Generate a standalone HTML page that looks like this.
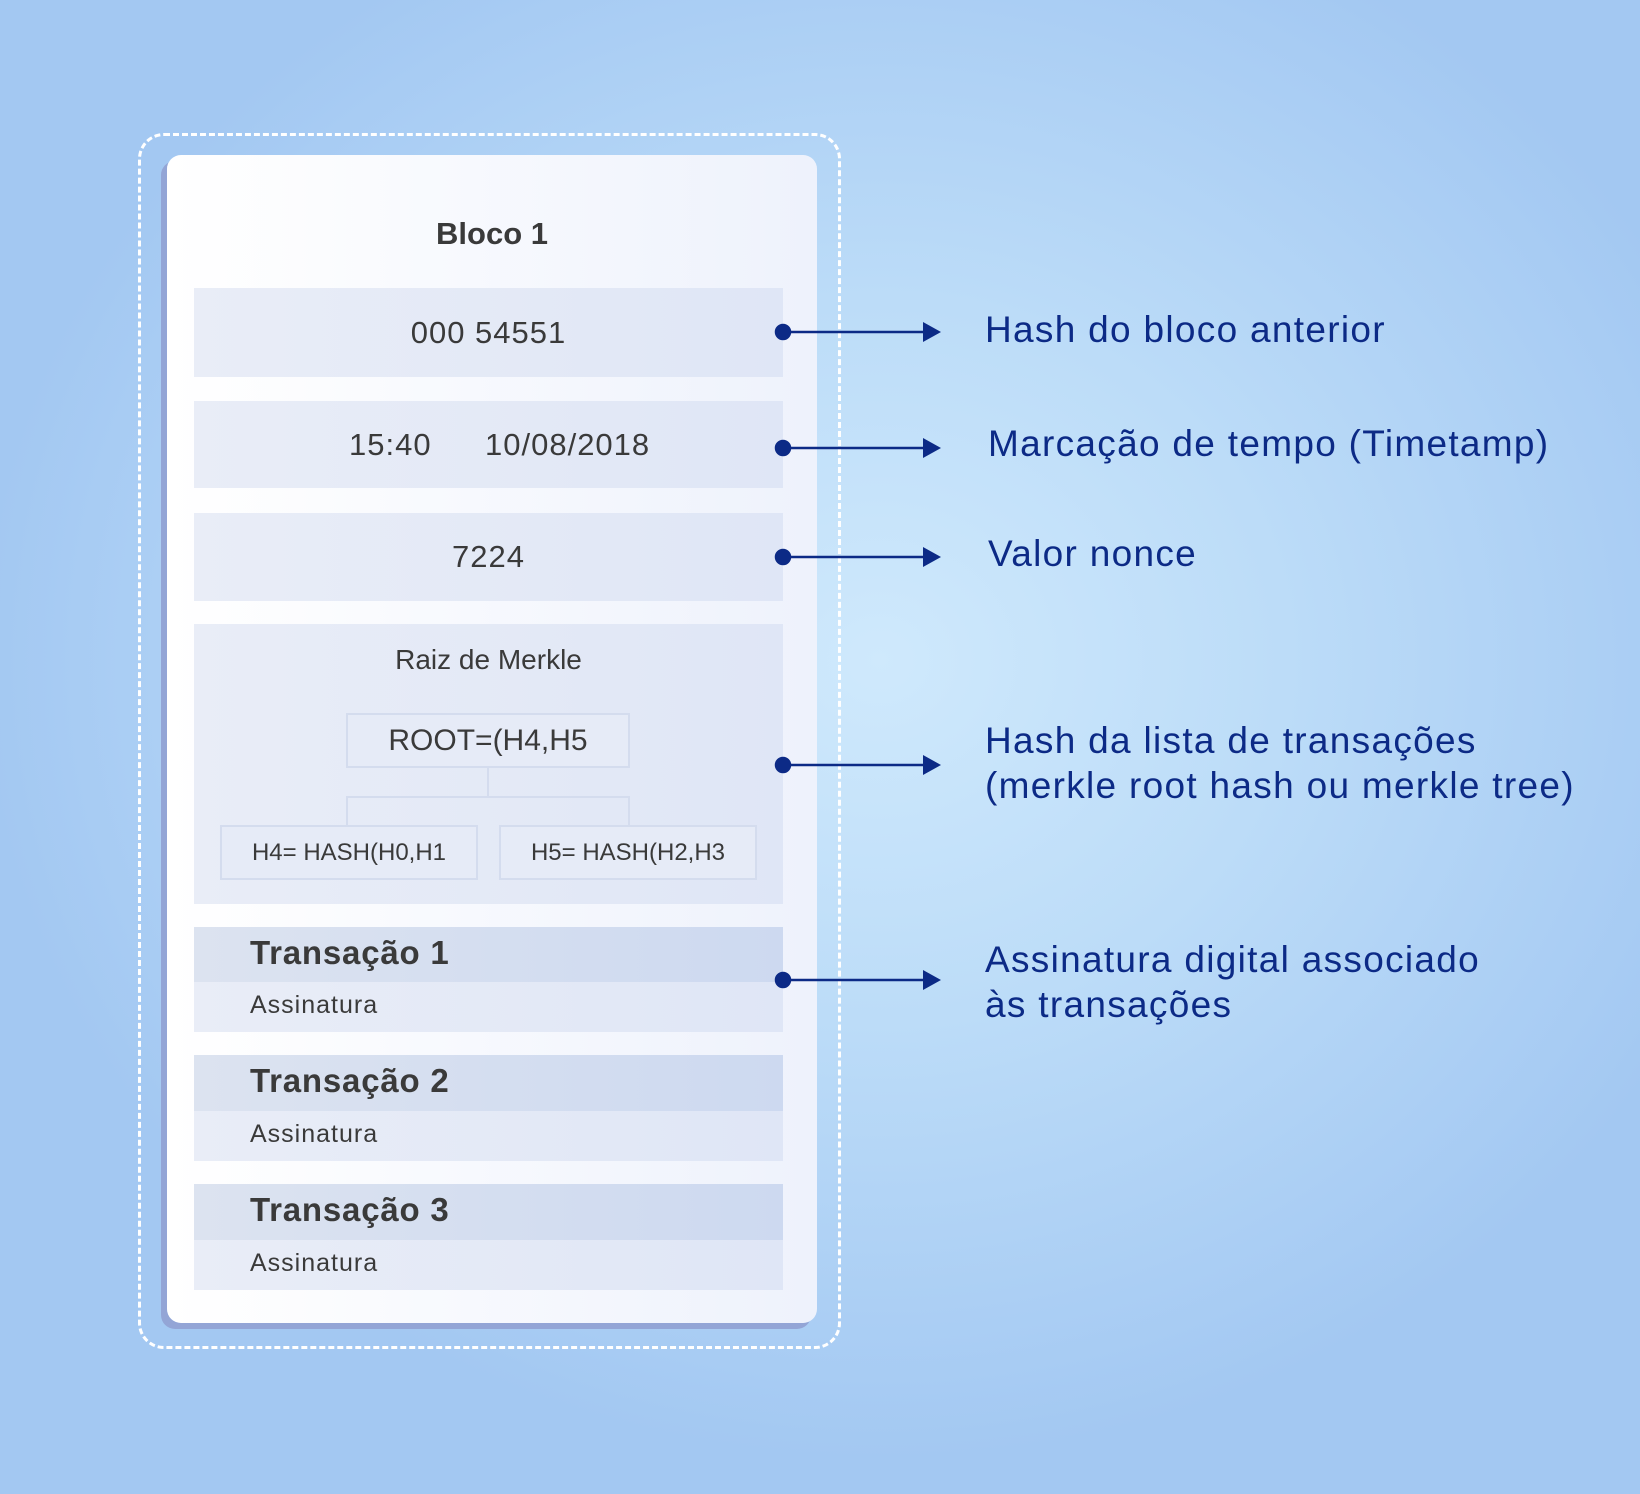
<!DOCTYPE html>
<html><head><meta charset="utf-8"><style>
body{margin:0;width:1640px;height:1494px;overflow:hidden;position:relative;font-family:"Liberation Sans","DejaVu Sans",sans-serif;
background:radial-gradient(ellipse 900px 800px at 880px 660px,#cfe9fc 0%,#bcdcf8 45%,#a3c8f2 100%);}
.abs{position:absolute}
.dash{left:138px;top:133px;width:697px;height:1210px;border:3px dashed #fff;border-radius:26px}
.card{left:167px;top:155px;width:650px;height:1168px;border-radius:14px;background:linear-gradient(90deg,#ffffff,#eef2fc);box-shadow:-6px 6px 0 #93a5d6}
.row{left:194px;width:589px;background:linear-gradient(90deg,#e9edf7,#dfe6f6);color:#3a3a3a;text-align:center}
.th{left:194px;width:589px;background:linear-gradient(90deg,#dce3f0,#cdd9f0)}
.tb{left:194px;width:589px;background:linear-gradient(90deg,#e9edf7,#dfe6f6)}
.tt{left:250px;font-weight:bold;font-size:33px;color:#3a3a3a;letter-spacing:0.8px}
.as{left:250px;font-size:25px;color:#3a3a3a;letter-spacing:1px}
.box{border:2px solid #d4dcee;background:#e6ebf7;color:#3a3a3a;text-align:center;box-sizing:border-box}
.lab{left:985px;font-size:37px;color:#0c2a86;line-height:45px;letter-spacing:1.3px}
</style></head><body>
<div class="abs dash"></div>
<div class="abs card"></div>
<div class="abs" style="left:167px;top:220px;width:650px;text-align:center;font-weight:bold;font-size:31px;color:#3a3a3a;line-height:28px">Bloco 1</div>
<div class="abs row" style="top:288px;height:89px;line-height:89px;font-size:31px;letter-spacing:1px">000 54551</div>
<div class="abs row" style="top:401px;height:87px;line-height:87px;font-size:31px;text-align:left;letter-spacing:1px"><span style="position:absolute;left:155px">15:40</span><span style="position:absolute;left:291px">10/08/2018</span></div>
<div class="abs row" style="top:513px;height:88px;line-height:88px;font-size:31px;letter-spacing:1px">7224</div>
<div class="abs row" style="top:624px;height:280px"></div>
<div class="abs" style="left:194px;top:644px;width:589px;text-align:center;font-size:28px;color:#3a3a3a">Raiz de Merkle</div>
<div class="abs box" style="left:346px;top:713px;width:284px;height:55px;line-height:51px;font-size:30px">ROOT=(H4,H5</div>
<div class="abs" style="left:487px;top:768px;width:2px;height:29px;background:#d4dcee"></div>
<div class="abs" style="left:346px;top:796px;width:284px;height:29px;border:2px solid #d4dcee;border-bottom:none;box-sizing:border-box"></div>
<div class="abs box" style="left:220px;top:825px;width:258px;height:55px;line-height:51px;font-size:24px">H4= HASH(H0,H1</div>
<div class="abs box" style="left:499px;top:825px;width:258px;height:55px;line-height:51px;font-size:24px">H5= HASH(H2,H3</div>

<div class="abs th" style="top:927px;height:55px"></div><div class="abs tb" style="top:982px;height:50px"></div>
<div class="abs tt" style="top:934px">Transação 1</div><div class="abs as" style="top:991px">Assinatura</div>
<div class="abs th" style="top:1055px;height:56px"></div><div class="abs tb" style="top:1111px;height:50px"></div>
<div class="abs tt" style="top:1062px">Transação 2</div><div class="abs as" style="top:1120px">Assinatura</div>
<div class="abs th" style="top:1184px;height:56px"></div><div class="abs tb" style="top:1240px;height:50px"></div>
<div class="abs tt" style="top:1191px">Transação 3</div><div class="abs as" style="top:1249px">Assinatura</div>

<svg class="abs" style="left:0;top:0" width="1640" height="1494">
<g fill="#0c2a86" stroke="#0c2a86" stroke-width="2.5">
<g transform="translate(0,332)"><circle cx="783" cy="0" r="7"/><line x1="783" y1="0" x2="925" y2="0"/><polygon points="923,-10 941,0 923,10" stroke="none"/></g>
<g transform="translate(0,448)"><circle cx="783" cy="0" r="7"/><line x1="783" y1="0" x2="925" y2="0"/><polygon points="923,-10 941,0 923,10" stroke="none"/></g>
<g transform="translate(0,557)"><circle cx="783" cy="0" r="7"/><line x1="783" y1="0" x2="925" y2="0"/><polygon points="923,-10 941,0 923,10" stroke="none"/></g>
<g transform="translate(0,765)"><circle cx="783" cy="0" r="7"/><line x1="783" y1="0" x2="925" y2="0"/><polygon points="923,-10 941,0 923,10" stroke="none"/></g>
<g transform="translate(0,980)"><circle cx="783" cy="0" r="7"/><line x1="783" y1="0" x2="925" y2="0"/><polygon points="923,-10 941,0 923,10" stroke="none"/></g>
</g></svg>

<div class="abs lab" style="top:307px">Hash do bloco anterior</div>
<div class="abs lab" style="top:421px;left:988px">Marcação de tempo (Timetamp)</div>
<div class="abs lab" style="top:531px;left:988px">Valor nonce</div>
<div class="abs lab" style="top:718px">Hash da lista de transações<br>(merkle root hash ou merkle tree)</div>
<div class="abs lab" style="top:937px">Assinatura digital associado<br>às transações</div>
</body></html>
